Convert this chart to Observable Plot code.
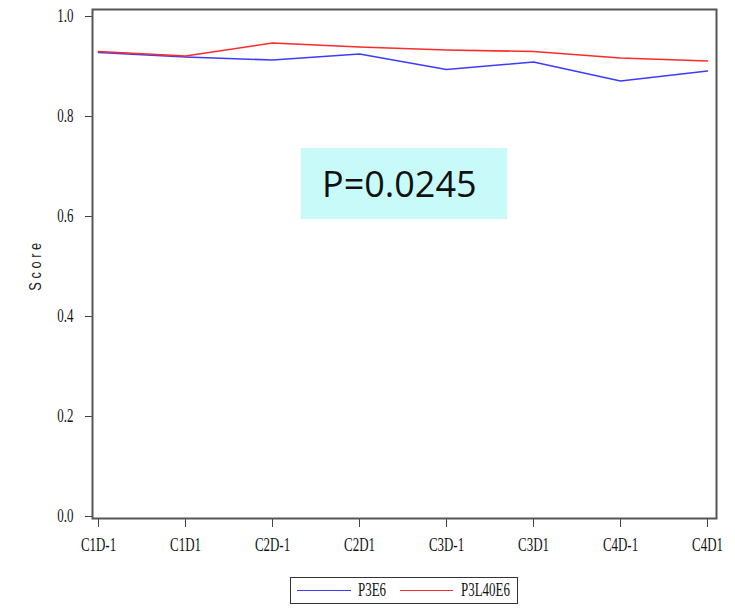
<!DOCTYPE html>
<html>
<head>
<meta charset="utf-8">
<script src="https://cdn.jsdelivr.net/npm/d3@7"></script>
<script src="https://cdn.jsdelivr.net/npm/@observablehq/plot@0.6"></script>
<style>
  body { margin: 0; background: #fff; }
  #wrap { position: relative; width: 735px; height: 614px; overflow: hidden; }
  #pbox { position: absolute; left: 301px; top: 148px; width: 206px; height: 71px; background: #c8fafa;
          font-family: "Open Sans", sans-serif; font-size: 36px; color: #111; line-height: 71px; text-indent: 21px; }
  #ylabel { position: absolute; left: 36px; top: 265px; transform: translate(-50%, -50%) rotate(-90deg) scaleX(0.8);
            font-family: "Liberation Sans", sans-serif; font-size: 16px; letter-spacing: 4.5px; color: #222;
            white-space: nowrap; }
  #legend { position: absolute; left: 290px; top: 577px; width: 226px; height: 25px; border: 1px solid #333;
            font-family: "Liberation Serif", serif; color: #111; }
  .sw { position: absolute; top: 12px; height: 0; border-top: 1.5px solid; }
  .lt { position: absolute; top: 2px; font-size: 18px; transform: scaleX(0.72); transform-origin: left center; }
</style>
</head>
<body>
<div id="wrap">
  <div id="chart"></div>
  <div id="ylabel">Score</div>
  <div id="pbox">P=0.0245</div>
  <div id="legend"></div>
</div>
<script>
const visits = ["C1D-1", "C1D1", "C2D-1", "C2D1", "C3D-1", "C3D1", "C4D-1", "C4D1"];
const seriesNames = ["P3E6", "P3L40E6"];
const seriesColors = ["#3c3cff", "#ff2a2a"];
const p3e6 = [0.928, 0.919, 0.913, 0.925, 0.894, 0.909, 0.871, 0.891];
const p3l40e6 = [0.930, 0.921, 0.947, 0.939, 0.933, 0.930, 0.917, 0.911];
const yTicks = [0, 0.2, 0.4, 0.6, 0.8, 1.0];

const rows = [];
visits.forEach((v, i) => {
  rows.push({visit: v, score: p3e6[i], series: seriesNames[0]});
  rows.push({visit: v, score: p3l40e6[i], series: seriesNames[1]});
});

const chart = Plot.plot({
  width: 735,
  height: 565,
  marginLeft: 92,
  marginRight: 19,
  marginTop: 9,
  marginBottom: 47,
  style: {fontFamily: "Liberation Serif", fontSize: "18px", color: "#111"},
  x: {type: "point", domain: visits, padding: 0, insetLeft: 3, insetRight: 6},
  y: {domain: [-0.004, 1.014]},
  color: {domain: seriesNames, range: seriesColors},
  marks: [
    Plot.axisY({ticks: yTicks, tickFormat: d3.format(".1f"), tickSize: 7, tickPadding: 12,
                label: null, stroke: "#444", fill: "#111"}),
    Plot.axisX({tickSize: 9, tickPadding: 11, label: null, stroke: "#444", fill: "#111"}),
    Plot.line(rows, {x: "visit", y: "score", z: "series", stroke: "series", strokeWidth: 1.6}),
    Plot.frame({stroke: "#555", strokeWidth: 2})
  ]
});
document.getElementById("chart").appendChild(chart);
// narrow, tall tick-label face like the original
d3.select(chart).selectAll("g[aria-label$='tick label'] text").each(function () {
  const t = this.getAttribute("transform") || "";
  this.setAttribute("transform", t + " scale(0.72,1)");
});

const legend = document.getElementById("legend");
const legendLayout = [[6, 54, 67], [109, 53, 170]];
seriesNames.forEach((name, i) => {
  const [x0, w, tx] = legendLayout[i];
  const sw = document.createElement("div");
  sw.className = "sw";
  sw.style.left = x0 + "px";
  sw.style.width = w + "px";
  sw.style.borderColor = seriesColors[i];
  legend.appendChild(sw);
  const t = document.createElement("div");
  t.className = "lt";
  t.style.left = tx + "px";
  t.textContent = name;
  legend.appendChild(t);
});
</script>
</body>
</html>
